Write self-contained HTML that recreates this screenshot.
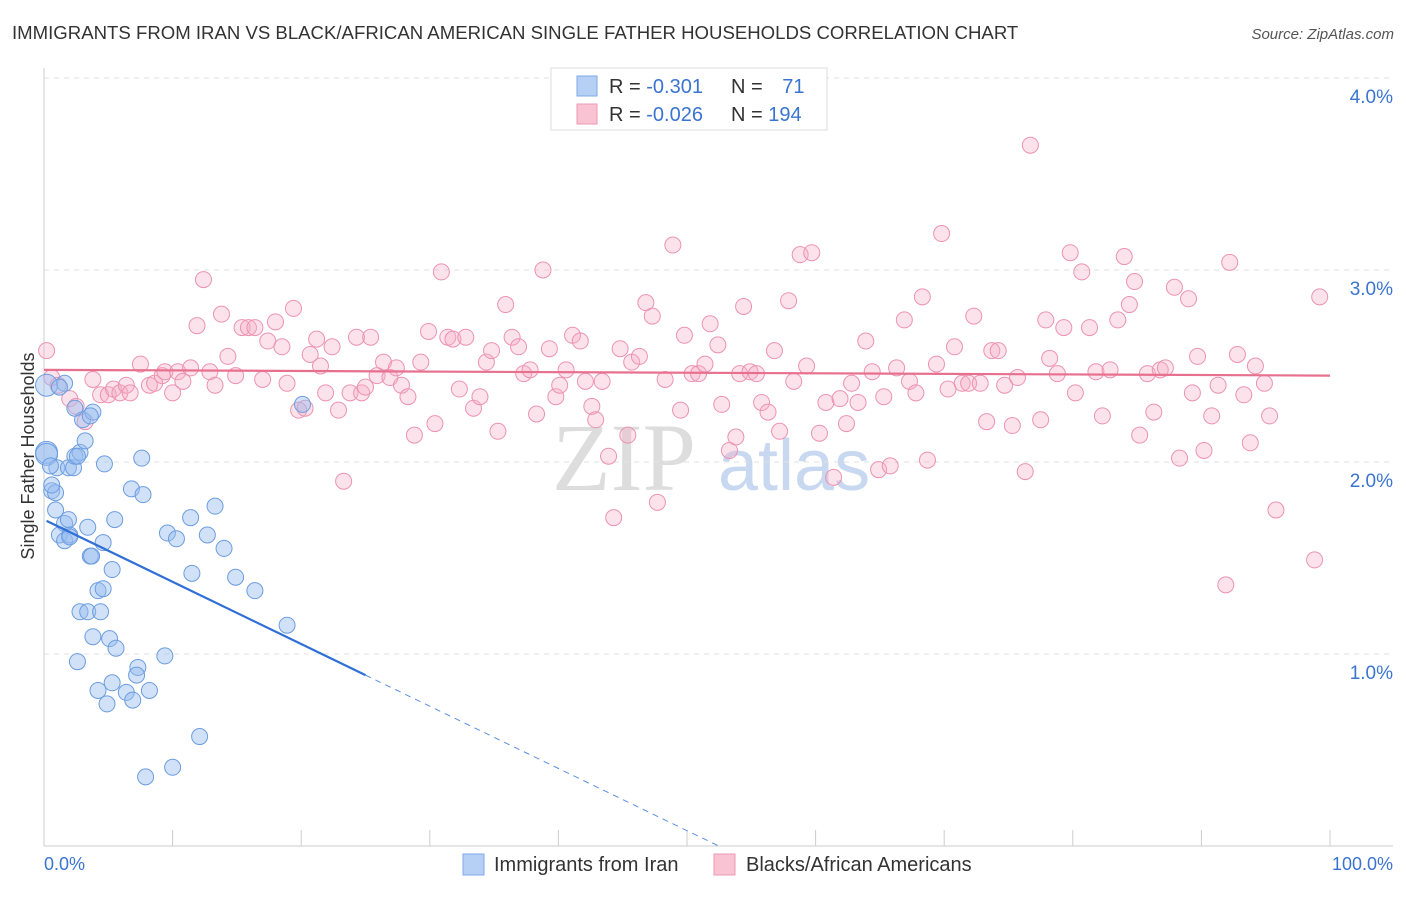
<!DOCTYPE html>
<html><head><meta charset="utf-8"><style>
body{margin:0;background:#fff;font-family:"Liberation Sans",sans-serif}
</style></head><body>
<svg id="chart" width="1406" height="892" xmlns="http://www.w3.org/2000/svg" font-family="Liberation Sans, sans-serif">
<text x="12" y="39" font-size="18.6" fill="#333">IMMIGRANTS FROM IRAN VS BLACK/AFRICAN AMERICAN SINGLE FATHER HOUSEHOLDS CORRELATION CHART</text>
<text x="1394" y="39" font-size="15" fill="#555" text-anchor="end" font-style="italic">Source: ZipAtlas.com</text>
<g>
<text x="552" y="490" font-size="96" fill="#ddd" font-family="Liberation Serif, serif">ZIP</text>
<text x="718" y="490" font-size="72" fill="#c8d8f0">atlas</text>
</g>
<g id="grid"></g>
<g id="pts"></g>
<g id="lines"></g>
<text transform="translate(34,456) rotate(-90)" font-size="18" fill="#333" text-anchor="middle">Single Father Households</text>
<g>
<rect x="551" y="68" width="276" height="62" fill="#fff" stroke="#ddd"/>
<rect x="577" y="76" width="20" height="20" fill="#b6d0f5" stroke="#7fa8e6"/>
<rect x="577" y="104" width="20" height="20" fill="#f9c3d3" stroke="#ee9ab4"/>
<text x="609" y="93" font-size="20" fill="#333">R = <tspan fill="#3a74d0">-0.301</tspan></text>
<text x="731" y="93" font-size="20" fill="#333">N = <tspan fill="#3a74d0" dx="14">71</tspan></text>
<text x="609" y="121" font-size="20" fill="#333">R = <tspan fill="#3a74d0">-0.026</tspan></text>
<text x="731" y="121" font-size="20" fill="#333">N = <tspan fill="#3a74d0">194</tspan></text>
</g>
<g>
<rect x="463" y="854" width="21" height="21" fill="#b6d0f5" stroke="#7fa8e6"/>
<text x="494" y="871" font-size="20" fill="#333">Immigrants from Iran</text>
<rect x="714" y="854" width="21" height="21" fill="#f9c3d3" stroke="#ee9ab4"/>
<text x="746" y="871" font-size="20" fill="#333">Blacks/African Americans</text>
</g>
<text x="44" y="870" font-size="18" fill="#3a74d0">0.0%</text>
<text x="1393" y="870" font-size="18" fill="#3a74d0" text-anchor="end">100.0%</text>
</svg>
<script>
const blueX=[0.2,0.2,0.2,0.6,0.9,0.6,1.6,1.0,1.9,2.3,2.4,2.8,2.6,3.0,3.2,3.8,2.4,3.6,0.9,1.6,1.9,1.2,1.6,2.0,3.4,3.6,3.7,4.6,5.3,5.5,4.7,7.6,6.8,7.7,4.2,4.6,2.8,3.4,4.4,3.8,5.1,5.6,9.4,2.6,7.3,7.2,4.2,5.3,6.4,8.2,4.9,6.9,12.1,7.9,10.0,9.6,10.3,11.4,12.7,13.3,14.0,11.5,14.9,16.4,18.9,20.1,2.0,0.5,1.2];
const blueY=[2.40,2.05,2.04,1.85,1.84,1.88,2.41,1.97,1.97,1.97,2.03,2.05,2.03,2.22,2.11,2.26,2.28,2.24,1.75,1.68,1.70,1.62,1.59,1.62,1.66,1.51,1.51,1.58,1.44,1.70,1.99,2.02,1.86,1.83,1.33,1.34,1.22,1.22,1.22,1.09,1.08,1.03,0.99,0.96,0.93,0.89,0.81,0.85,0.80,0.81,0.74,0.76,0.57,0.36,0.41,1.63,1.60,1.71,1.62,1.77,1.55,1.42,1.40,1.33,1.15,2.30,1.61,1.98,2.39];
const pinkX=[0.2,0.6,1.1,2.0,2.5,3.2,3.8,4.4,5.0,5.4,5.9,6.4,6.7,7.5,8.2,8.6,9.2,9.4,10.0,10.4,10.8,11.4,11.9,12.4,12.9,13.3,13.8,14.3,14.9,15.4,15.9,16.4,17.0,17.4,18.0,18.5,18.9,19.4,19.8,20.3,20.7,21.2,21.5,21.9,22.4,22.9,23.3,23.8,24.3,24.7,25.0,25.4,25.9,26.4,26.9,27.4,27.8,28.3,28.8,29.3,29.9,30.4,30.9,31.4,31.8,32.3,32.8,33.4,33.9,34.4,34.8,35.3,35.9,36.4,36.9,37.3,37.8,38.3,38.8,39.3,39.8,40.1,40.6,41.1,41.7,42.1,42.6,42.9,43.4,43.9,44.3,44.8,45.4,45.7,46.3,46.8,47.3,47.7,48.3,48.9,49.5,49.8,50.4,50.9,51.4,51.8,52.4,52.7,53.3,53.8,54.1,54.4,54.9,55.4,55.8,56.3,56.8,57.2,57.9,58.3,58.8,59.3,59.7,60.3,60.8,61.4,61.9,62.4,62.8,63.3,63.9,64.4,64.9,65.3,65.8,66.3,66.9,67.3,67.8,68.3,68.7,69.4,69.8,70.3,70.8,71.4,71.9,72.3,72.8,73.3,73.7,74.2,74.7,75.3,75.7,76.3,76.7,77.5,77.9,78.2,78.8,79.3,79.8,80.2,80.7,81.3,81.8,82.3,82.9,83.5,84.0,84.4,84.8,85.2,85.8,86.3,86.8,87.2,87.9,88.3,89.0,89.3,89.7,90.2,90.8,91.3,91.9,92.2,92.8,93.3,93.8,94.2,94.9,95.3,95.8,98.8,99.2];
const pinkY=[2.58,2.44,2.40,2.33,2.29,2.21,2.43,2.35,2.35,2.38,2.36,2.40,2.36,2.51,2.40,2.41,2.45,2.47,2.36,2.47,2.42,2.49,2.71,2.95,2.47,2.40,2.77,2.55,2.45,2.70,2.70,2.70,2.43,2.63,2.73,2.60,2.41,2.80,2.27,2.28,2.56,2.64,2.50,2.36,2.60,2.27,1.90,2.36,2.65,2.36,2.39,2.65,2.45,2.52,2.44,2.49,2.40,2.34,2.14,2.52,2.68,2.20,2.99,2.65,2.64,2.38,2.65,2.28,2.34,2.52,2.58,2.16,2.82,2.65,2.60,2.46,2.48,2.25,3.00,2.59,2.34,2.40,2.48,2.66,2.63,2.42,2.29,2.22,2.42,2.03,1.71,2.59,2.14,2.52,2.55,2.83,2.76,1.79,2.43,3.13,2.27,2.66,2.46,2.46,2.51,2.72,2.61,2.30,2.06,2.13,2.46,2.81,2.47,2.46,2.31,2.26,2.58,2.16,2.84,2.42,3.08,2.50,3.09,2.15,2.31,1.92,2.33,2.20,2.41,2.31,2.63,2.47,1.96,2.34,1.98,2.49,2.74,2.42,2.36,2.86,2.01,2.51,3.19,2.38,2.60,2.41,2.41,2.76,2.41,2.21,2.58,2.58,2.40,2.19,2.44,1.95,3.65,2.22,2.74,2.54,2.46,2.70,3.09,2.36,2.99,2.70,2.47,2.24,2.48,2.74,3.07,2.82,2.94,2.14,2.46,2.26,2.48,2.49,2.91,2.02,2.85,2.36,2.55,2.06,2.24,2.40,1.36,3.04,2.56,2.35,2.10,2.50,2.41,2.24,1.75,1.49,2.86];
const yTicks=[1,2,3,4];
const yTickLabels=["1.0%","2.0%","3.0%","4.0%"];
const xTicks=[0,10,20,30,40,50,60,70,80,90,100];
const blueTrend=[1.70,-0.0324];
const blueSolidEnd=25;
const pinkTrend=[2.48,2.45];
const NS="http://www.w3.org/2000/svg";
const sx=v=>44+v*12.86, sy=v=>846-v*192;
function mk(tag,attrs,parent){const e=document.createElementNS(NS,tag);for(const k in attrs)e.setAttribute(k,attrs[k]);parent.appendChild(e);return e;}
const grid=document.getElementById('grid');
yTicks.forEach((t,i)=>{
 const l=mk('line',{x1:44,x2:1393,y1:sy(t),y2:sy(t),stroke:'#e2e2e2','stroke-dasharray':'5,5'},grid);
 
 
 const tx=mk('text',{x:1393,y:sy(t)+25,'font-size':19,fill:'#3a74d0','text-anchor':'end'},grid);
 tx.textContent=yTickLabels[i];
 
 
});
const ax=mk('line',{x1:44,x2:1393,y1:846,y2:846,stroke:'#ccc'},grid);


const ay=mk('line',{x1:44,x2:44,y1:68,y2:846,stroke:'#ccc'},grid);


xTicks.forEach(t=>{const l=mk('line',{x1:sx(t),x2:sx(t),y1:830,y2:846,stroke:'#ccc'},grid);
 
 });
const pts=document.getElementById('pts');
pinkX.forEach((x,i)=>{const c=mk('circle',{cx:sx(x),cy:sy(pinkY[i]),r:8,fill:'rgba(245,172,198,0.35)',stroke:'#ec93b1','stroke-width':1},pts);
 
 });
blueX.forEach((x,i)=>{const c=mk('circle',{cx:sx(x),cy:sy(blueY[i]),r:i<3?11:8,fill:'rgba(150,188,240,0.45)',stroke:'#6c9de0','stroke-width':1},pts);
 
 });
const lines=document.getElementById('lines');
const bEnd=-blueTrend[0]/blueTrend[1];
const b1=mk('line',{x1:sx(0.2),y1:sy(blueTrend[0]+blueTrend[1]*0.2),x2:sx(blueSolidEnd),y2:sy(blueTrend[0]+blueTrend[1]*blueSolidEnd),stroke:'#2f6fd6','stroke-width':2.2},lines);


const b2=mk('line',{x1:sx(blueSolidEnd),y1:sy(blueTrend[0]+blueTrend[1]*blueSolidEnd),x2:sx(bEnd),y2:sy(0),stroke:'#5a8fe0','stroke-width':1,'stroke-dasharray':'6,5'},lines);


const p1=mk('line',{x1:sx(0),y1:sy(pinkTrend[0]),x2:sx(100),y2:sy(pinkTrend[1]),stroke:'#e8708f','stroke-width':2.2},lines);


</script>
</body></html>
